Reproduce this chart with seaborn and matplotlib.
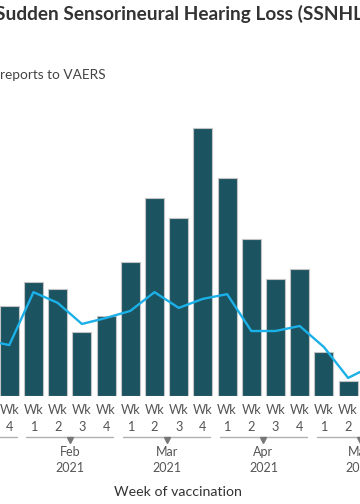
import pandas as pd
import matplotlib
matplotlib.use("Agg")
import matplotlib.pyplot as plt
import matplotlib.transforms as mtransforms
import seaborn as sns

# week labels (the picture is cropped: Jan Wk 3 and May Wk 3 sit just outside)
weeks = ["Jan Wk 3", "Jan Wk 4",
         "Feb Wk 1", "Feb Wk 2", "Feb Wk 3", "Feb Wk 4",
         "Mar Wk 1", "Mar Wk 2", "Mar Wk 3", "Mar Wk 4",
         "Apr Wk 1", "Apr Wk 2", "Apr Wk 3", "Apr Wk 4",
         "May Wk 1", "May Wk 2", "May Wk 3"]
wk_num = ["3", "4", "1", "2", "3", "4", "1", "2", "3", "4",
          "1", "2", "3", "4", "1", "2", "3"]
reports = [25, 27, 34, 32, 19, 24, 40, 59, 53, 80, 65, 47, 35, 38, 13, 4.5, 6]
expected = [16.7, 15.2, 31, 27.8, 21.5, 23.3, 25.4, 31, 26.3, 29, 30.4,
            19.4, 19.4, 20.9, 14.6, 5.4, 9]

months = ["Jan", "Feb", "Mar", "Apr", "May"]
month_first = [-2, 2, 6, 10, 14]
month_last = [1, 5, 9, 13, 17]

df = pd.DataFrame({"week": weeks, "reports": reports, "expected": expected})
df["pos"] = range(len(df))

sns.set_theme(style="white")
plt.rcParams["font.family"] = ["Lato", "DejaVu Sans"]

fig = plt.figure(figsize=(3.6, 5.04), dpi=100)
ax = fig.add_axes([0, 108 / 504, 1, 301.5 / 504])

sns.barplot(data=df, x="week", y="reports", order=weeks, color="#1b5360",
            saturation=1, width=0.785, edgecolor="#c4c4c4", linewidth=0.8,
            ax=ax)
sns.lineplot(data=df, x="pos", y="expected", color="#1cb0e8", linewidth=1.7,
             ax=ax)

ax.set_xticks(range(len(weeks)))
ax.set_xticklabels(["Wk\n" + n for n in wk_num], color="#555555",
                   fontsize=9.2, linespacing=1.5)
ax.tick_params(axis="x", length=0, pad=6)
ax.set_yticks([])
ax.set_ylim(0, 90)
ax.set_xlabel("")
ax.set_ylabel("")
for s in ax.spines.values():
    s.set_visible(False)

# month brackets under the week labels
tr = mtransforms.blended_transform_factory(ax.transData, fig.transFigure)
for m, a, b in zip(months, month_first, month_last):
    ax.plot([a - 0.3, b + 0.3], [0.133, 0.133], color="#b0b0b0", lw=1,
            transform=tr, clip_on=False)
    mid = (a + b) / 2
    ax.plot([mid], [0.126], marker="v", markersize=4.5, color="#777777",
            transform=tr, clip_on=False)
    ax.text(mid, 0.116, m + "\n2021", transform=tr, ha="center", va="top",
            fontsize=9, color="#555555", linespacing=1.45)
ax.set_xlim(0.616, 15.49)

fig.text(-0.014, 0.972, "Sudden Sensorineural Hearing Loss (SSNHL)",
         fontsize=13.7, fontweight="bold", color="#333333", va="center")
fig.text(0.0, 0.851, "reports to VAERS", fontsize=9.8, color="#444444",
         va="center")
fig.text(0.495, 0.024, "Week of vaccination", fontsize=10.2,
         color="#333333", ha="center", va="center")

fig.savefig("out.png", dpi=100)
